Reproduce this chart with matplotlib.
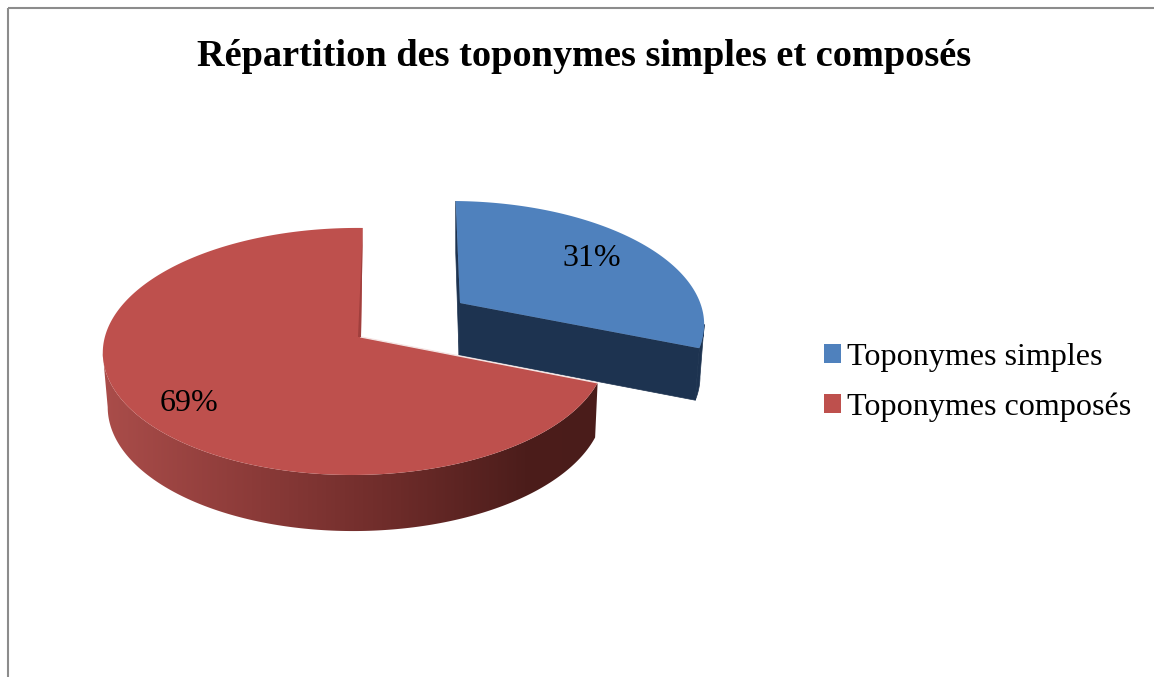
import matplotlib

matplotlib.use("Agg")
import matplotlib.pyplot as plt
import numpy as np
from matplotlib.colors import LinearSegmentedColormap
from matplotlib.patches import Patch, Polygon

categories = ["Toponymes simples", "Toponymes composés"]
values = [31, 69]
pct_labels = ["31%", "69%"]
title = "Répartition des toponymes simples et composés"

top_colors = ["#4F81BD", "#BE504D"]
BLUE_WALL = "#1D3350"
RED_WALL = LinearSegmentedColormap.from_list(
    "red_wall",
    [(0.0, "#AA4D4A"), (0.3, "#8C3B39"), (0.6, "#6C2B29"), (0.85, "#4C1D1B"), (1.0, "#4A1C1A")],
)

plt.rcParams["font.family"] = ["Liberation Serif", "DejaVu Serif"]

# tilted-disc projection, fitted on the rim of the picture
K_X = 0.024


def project(t, cx, cy, rx, ry, ky, skew=0.0):
    """Map pie angles (clockwise from the back) to pixel coordinates."""
    x, y = np.sin(t), np.cos(t)
    d = 1 + ky * y + K_X * x
    return cx + (rx * x + skew * y) / d, cy - ry * y / d


def lower(px, py, cy, vx, sx, sy, depth):
    """Bottom-face point under a top-face point."""
    return vx + (px - vx) * sx, py + depth + (py - cy) * sy


fig = plt.figure(figsize=(11.54, 6.77), dpi=100)
ax = fig.add_axes([0, 0, 1, 1])
ax.axis("off")

# frame: top and left sides only are inside the crop
ax.plot([8, 1154], [7.5, 7.5], color="#8C8C8C", lw=1.5, solid_capstyle="butt")
ax.plot([8, 8], [7.5, 677], color="#8C8C8C", lw=1.5, solid_capstyle="butt")

ends = np.cumsum(values) / np.sum(values) * 2 * np.pi
starts = np.r_[0, ends[:-1]]

# blue slice, pulled out
blue_geom = dict(cx=460, cy=303, rx=246, ry=118.3, ky=0.16, skew=-5)
blue_wall = dict(cy=303, vx=460, sx=0.983, sy=0.0, depth=52)
t = np.linspace(starts[0], ends[0], 120)
px, py = project(t, **blue_geom)
bx, by = lower(px, py, **blue_wall)
cbx, cby = lower(blue_geom["cx"], blue_geom["cy"], **blue_wall)
side = np.arange(len(t)) >= np.argmax(px)  # wall starts at the silhouette
ax.add_patch(
    Polygon(
        np.c_[np.r_[px[side], bx[side][::-1]], np.r_[py[side], by[side][::-1]]],
        fc=BLUE_WALL, ec=BLUE_WALL, lw=0.5, zorder=2,
    )
)
for i in (0, -1):
    ax.add_patch(
        Polygon(
            [(blue_geom["cx"], blue_geom["cy"]), (px[i], py[i]), (bx[i], by[i]), (cbx - 1, cby)],
            fc=BLUE_WALL, ec=BLUE_WALL, lw=0.5, zorder=2,
        )
    )
ax.add_patch(
    Polygon(np.c_[np.r_[blue_geom["cx"], px], np.r_[blue_geom["cy"], py]], fc=top_colors[0], ec="none", zorder=3)
)

# red slice
red_geom = dict(cx=361, cy=337, rx=250, ry=121.8, ky=0.117, skew=2)
red_wall = dict(cy=337, vx=430, sx=0.985, sy=0.015, depth=54)
t = np.linspace(starts[1], ends[1], 300)
px, py = project(t, **red_geom)
side = np.arange(len(t)) <= np.argmin(px)  # wall stops at the silhouette
bx, by = lower(px[side], py[side], **red_wall)
wall = Polygon(
    np.c_[np.r_[px[side], bx[::-1]], np.r_[py[side], by[::-1]]],
    fc="none", ec="none", transform=ax.transData,
)
ax.add_patch(wall)
gradient = ax.imshow(
    np.linspace(0, 1, 256).reshape(1, -1),
    cmap=RED_WALL,
    extent=(102, 600, 540, 340),
    aspect="auto",
    interpolation="bilinear",
    zorder=4,
)
gradient.set_clip_path(wall)
ax.add_patch(
    Polygon(np.c_[np.r_[red_geom["cx"], px], np.r_[red_geom["cy"], py]], fc=top_colors[1], ec="none", zorder=5)
)
# light seam on the front cut and thin shaded wall on the back cut
ax.plot([red_geom["cx"], px[0]], [red_geom["cy"], py[0]], color="#F4E4E3", lw=1.0, zorder=6)
ax.add_patch(
    Polygon(
        [(px[-1], py[-1]), (red_geom["cx"], red_geom["cy"]), (red_geom["cx"] - 3, red_geom["cy"])],
        fc="#A03F3D", ec="none", zorder=6,
    )
)

ax.set_xlim(0, 1154)
ax.set_ylim(677, 0)

ax.text(584, 66, title, ha="center", va="baseline", fontsize=27.6, fontweight="bold", color="black")
ax.text(592, 266, pct_labels[0], ha="center", va="baseline", fontsize=23, color="black", zorder=7)
ax.text(189, 411, pct_labels[1], ha="center", va="baseline", fontsize=23, color="black", zorder=7)

handles = [Patch(fc=c, ec="none") for c in top_colors]
ax.legend(
    handles,
    categories,
    loc="upper left",
    bbox_to_anchor=(824, 342.5),
    bbox_transform=ax.transData,
    frameon=False,
    fontsize=23.1,
    handlelength=0.53,
    handleheight=0.53,
    handletextpad=0.2,
    labelspacing=0.66,
    borderpad=0,
    borderaxespad=0,
)

fig.savefig("out.png", dpi=100)
